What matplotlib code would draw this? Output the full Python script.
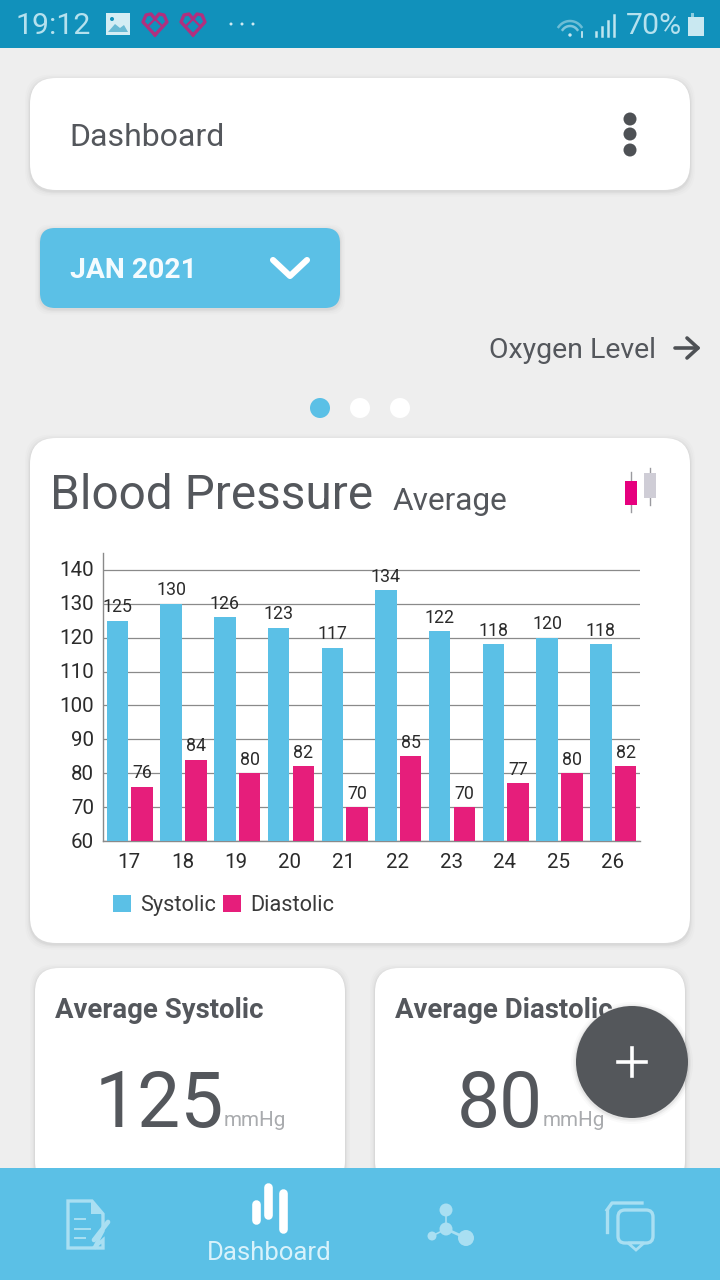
import matplotlib
matplotlib.use('Agg')
import matplotlib.pyplot as plt
import numpy as np
from matplotlib.patches import FancyBboxPatch, Rectangle, Circle, Polygon, Ellipse
from matplotlib.transforms import ScaledTranslation

plt.rcParams['font.family'] = ['Roboto', 'DejaVu Sans']

days = ['17', '18', '19', '20', '21', '22', '23', '24', '25', '26']
systolic = [125, 130, 126, 123, 117, 134, 122, 118, 120, 118]
diastolic = [76, 84, 80, 82, 70, 85, 70, 77, 80, 82]
y_ticks = [60, 70, 80, 90, 100, 110, 120, 130, 140]

BG = '#eeeeee'
BLUE = '#5bc0e6'
PINK = '#e61e7b'
TEAL = '#1191bb'
TXT = '#54575c'

fig = plt.figure(figsize=(7.2, 12.8), dpi=100, facecolor=BG)

def layer(z):
    a = fig.add_axes([0, 0, 1, 1], zorder=z)
    a.set_xlim(0, 720)
    a.set_ylim(1280, 0)
    a.axis('off')
    return a

ui = layer(0)

def card(a, x, y, w, h, r, fc='white', shadow=True):
    if shadow:
        for grow, al in zip([5, 3.5, 2, 1], [0.010, 0.016, 0.022, 0.03]):
            a.add_patch(FancyBboxPatch((x + r - grow, y + r - grow + 1.5), w - 2*r + 2*grow, h - 2*r + 2*grow,
                                       boxstyle=f'round,pad={r},rounding_size={r}', fc='black', ec='none', alpha=al))
    a.add_patch(FancyBboxPatch((x + r, y + r), w - 2*r, h - 2*r,
                               boxstyle=f'round,pad={r},rounding_size={r}', fc=fc, ec='none'))

def T(a, x, y, s, size, color=TXT, ha='left', va='center', **kw):
    return a.text(x, y, s, fontsize=size, color=color, ha=ha, va=va, **kw)

# header card
card(ui, 30, 78, 660, 112, 26)
T(ui, 69.5, 137, 'Dashboard', 23.05)
for cy in (119, 134, 150):
    ui.add_patch(Circle((630, cy), 6.5, fc='#4e5155', ec='none'))

# month selector
card(ui, 40, 228, 300, 80, 15, fc=BLUE)
T(ui, 70, 271, 'JAN 2021', 20.3, color='#f4fbfe', fontweight='bold')
ui.plot([273, 290, 307], [260, 276, 260], color='white', lw=4.4, solid_capstyle='round', solid_joinstyle='round')

# next page hint
T(ui, 489, 351, 'Oxygen Level', 20.5)
ui.plot([675, 698], [348, 348], color='#4e5155', lw=2.6, solid_capstyle='round')
ui.plot([687, 698, 687], [338, 348, 358], color='#4e5155', lw=2.6, solid_capstyle='round', solid_joinstyle='round')

# pager dots
ui.add_patch(Circle((320, 408), 10, fc=BLUE, ec='none'))
ui.add_patch(Circle((360, 408), 10, fc='white', ec='none'))
ui.add_patch(Circle((400, 408), 10, fc='white', ec='none'))

# chart card
card(ui, 30, 438, 660, 505, 26)
T(ui, 50, 496, 'Blood Pressure', 34.4)
T(ui, 393, 501, 'Average', 22.8)
ui.plot([631, 631], [472, 512], color='#9a9a9f', lw=1)
ui.add_patch(Rectangle((625, 481), 12, 24, fc='#e6007e', ec='none', zorder=3))
ui.plot([650, 650], [468, 505], color='#9a9a9f', lw=1)
ui.add_patch(Rectangle((644, 473), 12, 25, fc='#cfcdd6', ec='none', zorder=3))

# small cards
card(ui, 35, 968, 310, 217, 24)
card(ui, 375, 968, 310, 217, 24)
T(ui, 55, 1010, 'Average Systolic', 19.8, fontweight='bold')
T(ui, 395, 1010, 'Average Diastolic', 19.8, fontweight='bold')
T(ui, 95, 1106, '125', 55.3)
T(ui, 224, 1121, 'mmHg', 14.9, color='#a9abae')
T(ui, 457, 1106, '80', 55.3)
T(ui, 543, 1121, 'mmHg', 14.9, color='#a9abae')

# status bar
ui.add_patch(Rectangle((0, 0), 720, 48, fc=TEAL, ec='none'))
LIGHT = '#b5e1ee'
T(ui, 16, 26, '19:12', 21.8, color=LIGHT)
ui.add_patch(Rectangle((106, 13), 24, 22, fc='#d4edf4', ec='none'))
ui.add_patch(Polygon([[108, 32], [115, 24], [120, 28], [124, 25], [128, 32]], fc=TEAL, ec='none', alpha=0.55))
ui.add_patch(Circle((112, 19), 2, fc=TEAL, ec='none'))
for cx in (155, 193):
    ui.plot([cx, cx - 12, cx - 9, cx - 4, cx, cx + 4, cx + 9, cx + 12, cx],
            [35, 22, 15, 14, 19, 14, 15, 22, 35], color='#b0307f', lw=2.4, solid_joinstyle='round')
    ui.plot([cx - 6, cx, cx + 6], [25, 19, 25], color='#b0307f', lw=1.6)
for cx in (231, 242, 253):
    ui.add_patch(Circle((cx, 24), 1.5, fc='#cfeaf2', ec='none'))
for r_, al in zip((14, 9), (0.55, 0.7)):
    th = np.radians(np.linspace(-145, -35, 20))
    ui.plot(570 + r_*np.cos(th), 36 + 2 + r_*np.sin(th) - 3, color='#8cccdf', lw=1.8, alpha=al + 0.2)
ui.add_patch(Circle((570, 35), 1.7, fc='#c9e8f1', ec='none'))
ui.plot([582, 582], [32, 37], color='#d4edf4', lw=1.2)
for cx, top in zip((596, 602, 608, 614), (32, 27, 21, 15)):
    ui.plot([cx, cx], [36, top], color='#bfe5ef', lw=1.8)
T(ui, 626, 26, '70%', 21.8, color=LIGHT)
ui.add_patch(Rectangle((691, 13), 3, 5, fc='#8cccdf', ec='none'))
ui.add_patch(Rectangle((688, 17), 16, 19, fc='#c9e8f1', ec='none'))

# bottom nav
nav = layer(3)
nav.add_patch(Rectangle((0, 1168), 720, 112, fc=BLUE, ec='none'))
ICON = '#a9dff2'
nav.add_patch(Polygon([[68, 1201], [92, 1201], [103, 1214], [103, 1231], [94, 1248], [103, 1240], [103, 1248], [68, 1248]],
                      fc='none', ec=ICON, lw=2.4))
nav.add_patch(Polygon([[91, 1201], [103, 1214], [91, 1214]], fc=ICON, ec='none'))
for y0, x1 in zip((1219, 1229, 1238), (85, 90, 85)):
    nav.plot([75, x1], [y0, y0], color=ICON, lw=1.4)
nav.plot([94, 108], [1240, 1222], color=ICON, lw=3.4, solid_capstyle='round')
for cx, y0, y1 in zip((256, 268, 283), (1204, 1187, 1193), (1220, 1215, 1229)):
    nav.plot([cx, cx], [y0, y1], color='white', lw=6.2, solid_capstyle='round')
T(nav, 269, 1253, 'Dashboard', 18.5, color='#d8f2fb', ha='center')
for (cx, cy, rad) in ((446, 1210, 6.5), (446, 1229, 6.5), (432, 1236, 4.5), (466, 1238, 8)):
    nav.add_patch(Circle((cx, cy), rad, fc=ICON, ec='none'))
nav.plot([446, 446], [1216, 1223], color=ICON, lw=1.2)
nav.plot([432, 446], [1236, 1229], color=ICON, lw=1.2)
nav.plot([446, 466], [1229, 1238], color=ICON, lw=2)
nav.add_patch(FancyBboxPatch((618, 1210), 35, 33, boxstyle='round,pad=0,rounding_size=7', fc='none', ec=ICON, lw=2.4))
nav.plot([607, 607], [1232, 1210], color=ICON, lw=2.4)
nav.plot([607, 612, 642], [1210, 1203, 1203], color=ICON, lw=2.4, solid_joinstyle='round')
nav.add_patch(Polygon([[628, 1243], [636, 1250], [644, 1243]], fc=BLUE, ec=ICON, lw=2))

# floating action button
fab = layer(4)
for grow, al in zip((5, 3, 1.5), (0.02, 0.03, 0.05)):
    fab.add_patch(Circle((632, 1063), 56 + grow, fc='black', ec='none', alpha=al))
fab.add_patch(Circle((632, 1062), 56, fc='#54575b', ec='none'))
fab.plot([618, 646], [1062, 1062], color='white', lw=2.6)
fab.plot([632, 632], [1048, 1076], color='white', lw=2.6)

# chart
L, R, TOP, BOT = 103, 640, 553, 841
ax = fig.add_axes([L/720, 1 - BOT/1280, (R - L)/720, (BOT - TOP)/1280], zorder=2)
ax.patch.set_alpha(0)
x = np.arange(len(days))
off, w = 0.23, 0.4
ax.bar(x - off, systolic, w, color=BLUE, label='Systolic', zorder=3)
ax.bar(x + off, diastolic, w, color=PINK, label='Diastolic', zorder=3)
ax.set_xlim(-0.5, len(days) - 0.5)
ax.set_ylim(60, 145)
ax.set_yticks(y_ticks)
ax.set_xticks(x)
ax.set_xticklabels(days)
ax.tick_params(axis='both', length=0, labelsize=14.8, labelcolor='#2b2b2b')
ax.tick_params(axis='y', pad=6.5)
ax.tick_params(axis='x', pad=8.5)
for lbl in ax.get_yticklabels():
    lbl.set_va('center')
    lbl.set_transform(lbl.get_transform() + ScaledTranslation(0, -1/100, fig.dpi_scale_trans))
for lbl in ax.get_xticklabels():
    lbl.set_transform(lbl.get_transform() + ScaledTranslation(-1/100, 0, fig.dpi_scale_trans))
ax.grid(axis='y', color='#8a8a8a', lw=0.9, zorder=1)
ax.set_axisbelow(True)
for s in ('top', 'right'):
    ax.spines[s].set_visible(False)
for s in ('left', 'bottom'):
    ax.spines[s].set_color('#8a8a8a')
    ax.spines[s].set_linewidth(1.0)
for xi, v in zip(x - off, systolic):
    ax.text(xi, v + 1.3, str(v), ha='center', va='bottom', fontsize=12.8, color='#2b2b2b', zorder=4)
for xi, v in zip(x + off, diastolic):
    ax.text(xi, v + 1.3, str(v), ha='center', va='bottom', fontsize=12.8, color='#2b2b2b', zorder=4)
leg = ax.legend(loc='upper left', bbox_to_anchor=(0.0186, -0.187), ncol=2, frameon=False, fontsize=15.7,
                handlelength=0.83, handleheight=0.83, handletextpad=0.42, columnspacing=0.33, borderpad=0, borderaxespad=0)
for t in leg.get_texts():
    t.set_color('#3a3a3a')

fig.savefig('out.png', dpi=100, facecolor=BG)
